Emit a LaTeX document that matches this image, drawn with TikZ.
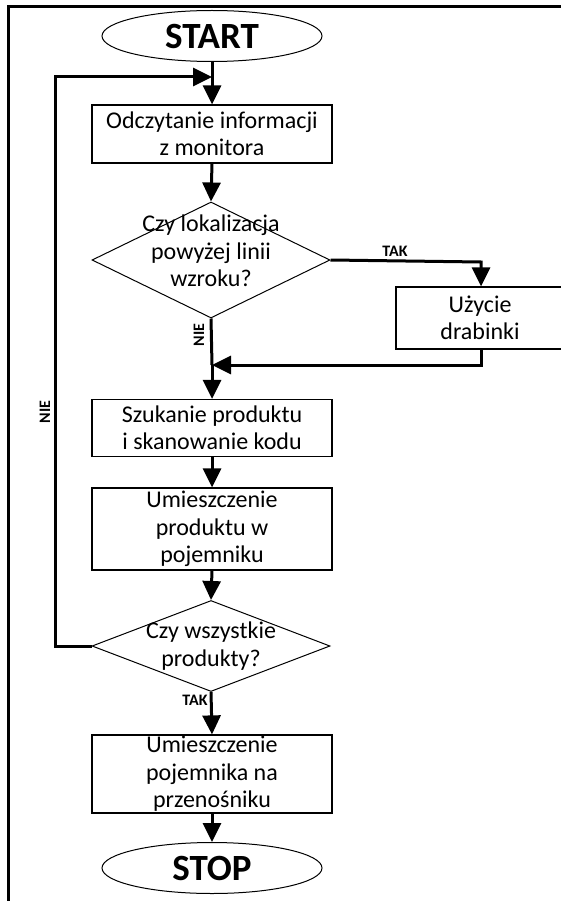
\documentclass[tikz,border=0pt]{standalone}
\usepackage{fontspec}
\setmainfont{Carlito}
\usetikzlibrary{shapes.geometric,arrows.meta}

\begin{document}
\begin{tikzpicture}[x=1pt,y=-1pt,
    every node/.style={font=\fontsize{24}{27.5}\selectfont},
    terminal/.style={draw,ellipse,line width=1pt,minimum width=220pt,minimum height=51pt,inner sep=0pt,font=\fontsize{37}{37}\selectfont\bfseries},
    process/.style={draw,rectangle,line width=1.2pt,minimum width=240pt,align=center,inner sep=0pt},
    decision/.style={draw,diamond,line width=1pt,minimum width=238pt,inner sep=0pt},
    flow/.style={line width=3pt,-{Triangle[length=19pt,width=18pt]}},
    answer/.style={font=\fontsize{16}{16}\selectfont\bfseries}]
  \clip (0,0) rectangle (561,901);

  % frame
  \draw[line width=3pt] (8,901) -- (8,7) -- (561,7);

  % nodes
  \node[terminal] (start) at (212,36) {START};
  \node[process,minimum height=58pt] (read) at (212,134) {Odczytanie informacji\\z monitora};
  \node[decision,minimum height=116pt] (q1) at (211,260) {};
  \node[align=center] at ([yshift=9pt]q1.center) {Czy lokalizacja\\powyżej linii\\wzroku?};
  \node[process,minimum width=180pt,minimum height=62pt] (ladder) at (486,318) {};
  \node[align=center] at (480,318) {Użycie\\drabinki};
  \node[process,minimum height=57pt] (search) at (212,428) {Szukanie produktu\\i skanowanie kodu};
  \node[process,minimum height=82pt] (place) at (212,529) {Umieszczenie\\produktu w\\pojemniku};
  \node[decision,minimum height=91pt] (q2) at (211,646) {};
  \node[align=center] at (q2.center) {Czy wszystkie\\produkty?};
  \node[process,minimum height=78pt] (final) at (212,774) {Umieszczenie\\pojemnika na\\przenośniku};
  \node[terminal] (stop) at (212,868) {STOP};

  \coordinate (loopin) at (212,77);
  \coordinate (join) at (212,365);
  \coordinate (ladderin) at (481,262);

  % connectors
  \draw[line width=3pt] (start.south) -- (loopin);
  \draw[flow] (loopin) -- (read.north);
  \draw[flow] (read.south) -- (q1.north);
  \draw[flow] (q1.east) -- (ladderin) -- (ladderin |- ladder.north);
  \node[answer] (tak1) at (395,251) {TAK};
  \draw[flow] (ladderin |- ladder.south) -- (ladderin |- join) -- (join);
  \draw[line width=3pt] (q1.south) -- (join);
  \node[answer,rotate=90] (nie1) at (199,335) {NIE};
  \draw[flow] (join) -- (search.north);
  \draw[flow] (search.south) -- (place.north);
  \draw[flow] (place.south) -- (q2.north);
  \draw[flow] (q2.west) -- (55,646) -- (55,77) -- (loopin);
  \node[answer,rotate=90] (nie2) at (45,412) {NIE};
  \draw[flow] (q2.south) -- (final.north);
  \node[answer] (tak2) at (195,700) {TAK};
  \draw[flow] (final.south) -- (stop.north);
\end{tikzpicture}
\end{document}
